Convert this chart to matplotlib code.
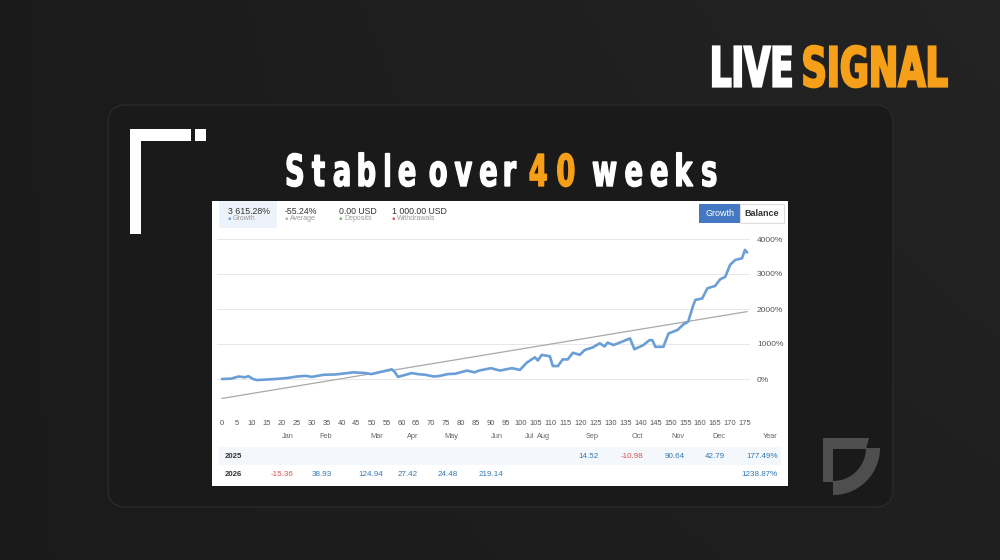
import numpy as np
import matplotlib
matplotlib.use('Agg')
import matplotlib.pyplot as plt
from matplotlib.textpath import TextPath
from matplotlib.font_manager import FontProperties
from matplotlib.patches import PathPatch, FancyBboxPatch, Rectangle, Polygon, Circle
from matplotlib.transforms import Affine2D

# growth curve (week index, growth %)
weeks = [0, 3, 5.5, 7.7, 8.8, 10.4, 11.6, 14, 18, 22, 25, 28, 30, 34, 38, 41, 44, 48, 50,
         53, 56.8, 57.8, 58.9, 61, 63.5, 65.5, 68, 71, 73, 75.5, 78, 82, 84.5, 86, 90, 93,
         97, 99.7, 102, 104.7, 105.7, 107, 109.7, 110.7, 112.4, 114, 115.7, 117.4, 119.7,
         121.4, 124, 126.4, 128, 129, 131, 134, 136.5, 138, 141, 143, 144, 145, 147.7,
         149.4, 152.4, 154.4, 156, 157.7, 158.4, 160.7, 162.4, 165, 166.7, 168.4, 170,
         171.7, 174, 175, 175.7]
growth = [0, 10, 70, 50, 80, 0, -30, -20, 0, 30, 70, 90, 60, 120, 130, 160, 190, 170, 140,
          200, 276, 200, 60, 110, 170, 140, 120, 70, 90, 140, 150, 240, 190, 240, 310, 240,
          310, 260, 470, 620, 530, 690, 650, 370, 370, 560, 560, 750, 690,
          830, 900, 1020, 930, 1040, 970, 1070, 1160, 850, 970, 1110, 1110, 920, 920,
          1300, 1400, 1560, 1640, 2110, 2260, 2300, 2590, 2660, 2850, 2920, 3260,
          3400, 3450, 3690, 3615]
trend_x = [0, 175.7]
trend_y = [-555, 1925]

y_ticks = [0, 1000, 2000, 3000, 4000]
x_ticks = list(range(0, 180, 5))

stats = ['3 615.28%', '-55.24%', '0.00 USD', '1 000.00 USD']
stat_labels = ['Growth', 'Average', 'Deposits', 'Withdrawals']
stat_colors = ['#6a9ed6', '#b0b0b0', '#5cb85c', '#d9534f']

months = ['Jan', 'Feb', 'Mar', 'Apr', 'May', 'Jun', 'Jul', 'Aug', 'Sep', 'Oct', 'Nov', 'Dec', 'Year']
years = ['2025', '2026']
vals_2025 = [None, None, None, None, None, None, None, None, 14.52, -10.98, 90.64, 42.79]
vals_2026 = [-15.36, 38.93, 124.94, 27.42, 24.48, 219.14, None, None, None, None, None, None]
year_totals = ['177.49%', '1238.87%']

ORANGE = '#f6a01a'
BLUE = '#6a9ed6'
SMALL = ['Liberation Sans Narrow', 'Liberation Sans', 'DejaVu Sans']

fig = plt.figure(figsize=(10, 5.6), dpi=100)
bg = fig.add_axes([0, 0, 1, 1])
gx = np.linspace(0, 1, 200)
gy = np.linspace(0, 1, 112)
G = 0.105 + 0.035 * gx[None, :] * (1 - 0.5 * gy[:, None])
bg.imshow(np.dstack([G, G, G]), extent=(0, 1000, 560, 0), aspect='auto', zorder=0)
bg.set_xlim(0, 1000)
bg.set_ylim(560, 0)
bg.axis('off')

# card + decorations
bg.add_patch(FancyBboxPatch((108, 105), 785, 402, boxstyle='round,pad=0,rounding_size=18',
                            fc='#1a1a1a', ec='#282828', lw=1.2, zorder=1))
for r in [(130, 129, 11, 105), (130, 129, 61, 12), (195, 129, 11, 12)]:
    bg.add_patch(Rectangle(r[:2], r[2], r[3], fc='white', ec='none', zorder=2))

logo_col = '#4e4e4e'
bg.add_patch(Polygon([(823, 438), (869, 438), (866, 449), (833, 449), (833, 482), (823, 482)],
                     closed=True, fc=logo_col, ec='none', zorder=2))
t = np.linspace(0, np.pi / 2, 40)
arc = [(833 + 47 * np.cos(a), 448 + 47 * np.sin(a)) for a in t] + \
      [(833 + 33 * np.cos(a), 448 + 33 * np.sin(a)) for a in t[::-1]]
bg.add_patch(Polygon(arc, closed=True, fc=logo_col, ec='none', zorder=2))

# big titles drawn as glyph paths
fp_bold = FontProperties(family='DejaVu Sans', weight='bold')
cap_h = TextPath((0, 0), 'H', prop=fp_bold, size=1).get_extents().height


def word(s, x0, x1, top, base, color, spread=False, cond=0.62, stroke=1.0):
    sy = (base - top) / cap_h
    if not spread:
        p = TextPath((0, 0), s, prop=fp_bold, size=1)
        e = p.get_extents()
        tr = Affine2D().translate(-e.x0, 0).scale((x1 - x0) / e.width, -sy).translate(x0, base)
        bg.add_patch(PathPatch(tr.transform_path(p), fc=color, ec=color, lw=stroke, zorder=3))
        return
    paths = [TextPath((0, 0), ch, prop=fp_bold, size=1) for ch in s]
    widths = [p.get_extents().width * sy * cond for p in paths]
    gap = (x1 - x0 - sum(widths)) / (len(s) - 1)
    x = x0
    for p, w in zip(paths, widths):
        e = p.get_extents()
        tr = Affine2D().translate(-e.x0, 0).scale(sy * cond, -sy).translate(x, base)
        bg.add_patch(PathPatch(tr.transform_path(p), fc=color, ec=color, lw=stroke, zorder=3))
        x += w + gap


word('LIVE', 713, 791, 46.5, 86.5, 'white', stroke=1.6)
word('SIGNAL', 804, 947, 46.5, 86.5, ORANGE, stroke=1.6)
word('Stable', 287, 415, 154, 186, 'white', spread=True)
word('over', 430, 516, 154, 186, 'white', spread=True)
word('40', 530, 574, 154, 186, ORANGE, spread=True)
word('weeks', 593, 716, 154, 186, 'white', spread=True)

# white chart panel
bg.add_patch(Rectangle((212, 201), 576, 285, fc='white', ec='none', zorder=4))
bg.add_patch(Rectangle((219, 201), 58, 27, fc='#edf3fa', ec='none', zorder=5))
stat_x = [228, 285, 339, 392]
for sx, v, lab, c in zip(stat_x, stats, stat_labels, stat_colors):
    bg.text(sx, 211, v, fontsize=6.3, color='#333333', family=SMALL, va='center', zorder=6)
    bg.add_patch(Circle((sx + 1.8, 218.7), 1.3, fc=c, ec='none', zorder=6))
    bg.text(sx + 5, 219, lab, fontsize=5, color='#9a9a9a', family=SMALL, va='center', zorder=6)

bg.add_patch(Rectangle((699, 204), 41, 18.5, fc='#4478c2', ec='none', zorder=5))
bg.add_patch(Rectangle((740, 204), 43.5, 18.5, fc='white', ec='#dddddd', lw=0.8, zorder=5))
bg.text(719.5, 213.5, 'Growth', fontsize=6.5, color='white', family=SMALL, ha='center', va='center', zorder=6)
bg.text(762, 213.5, 'Balance', fontsize=6.5, color='#333333', family=SMALL, ha='center', va='center',
        weight='bold', zorder=6)

# monthly table
col_right = [294, 332, 383, 418, 458, 503, 534, 550, 599, 643, 685, 725, 778]
bg.add_patch(Rectangle((219, 447), 562, 18, fc='#f4f7fb', ec='none', zorder=5))
for m, xr in zip(months, col_right):
    bg.text(xr, 437, m, fontsize=5.3, color='#666666', family=SMALL, ha='right', va='center', zorder=6)
for yy, y_lab, vals, tot in zip([456, 475], years, [vals_2025, vals_2026], year_totals):
    bg.text(225, yy, y_lab, fontsize=5.6, color='#333333', family=SMALL, va='center', weight='bold', zorder=6)
    for v, xr in zip(vals, col_right):
        if v is None:
            continue
        bg.text(xr, yy, f'{v:.2f}', fontsize=5.8, color='#d9534f' if v < 0 else '#2f78b4',
                family=SMALL, ha='right', va='center', zorder=6)
    bg.text(col_right[-1], yy, tot, fontsize=5.8, color='#2f78b4', family=SMALL, ha='right', va='center', zorder=6)

# growth chart
L, R, T, B = 217, 750, 239, 414
px_per_week = (745 - 222) / 175.0
ax = fig.add_axes([L / 1000, 1 - B / 560, (R - L) / 1000, (B - T) / 560])
ax.set_facecolor('none')
ax.plot(trend_x, trend_y, color='#a9a9a9', lw=0.9)
ax.plot(weeks, growth, color=BLUE, lw=1.9, solid_joinstyle='round', solid_capstyle='round')
ax.set_xlim((L - 222) / px_per_week, (R - 222) / px_per_week)
ax.set_ylim(-1000, 4000)
ax.set_yticks([-1000] + y_ticks)
ax.set_yticklabels([''] + [f'{v}%' for v in y_ticks])
ax.yaxis.tick_right()
ax.set_xticks(x_ticks)
ax.grid(axis='y', color='#e8e8e8', lw=0.7)
ax.set_axisbelow(True)
ax.tick_params(axis='both', length=0, labelcolor='#555555')
ax.tick_params(axis='y', pad=5, labelsize=6)
ax.tick_params(axis='x', pad=4, labelsize=5.4)
for lab in ax.get_xticklabels() + ax.get_yticklabels():
    lab.set_family(SMALL)
for s in ax.spines.values():
    s.set_visible(False)

fig.savefig('out.png', dpi=100)
